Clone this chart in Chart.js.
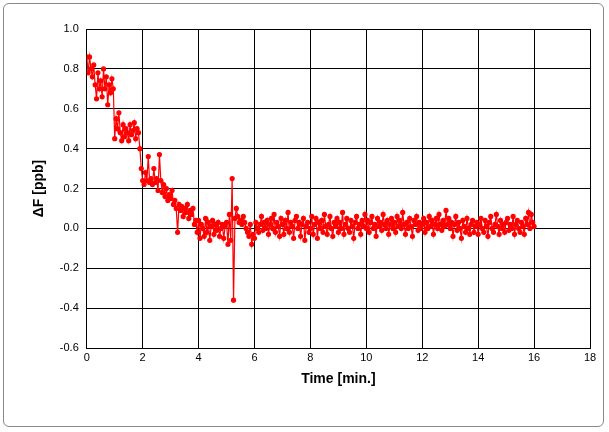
<!DOCTYPE html>
<html><head><meta charset="utf-8">
<script src="https://cdn.jsdelivr.net/npm/chart.js@4"></script>
<style>html,body{margin:0;padding:0;background:#fff}#w{position:absolute;left:3px;top:3px;width:601px;height:424px;border:1px solid #888;border-radius:6px;box-sizing:border-box}canvas{position:absolute;left:0;top:0}</style>
</head><body><div id="w"></div><canvas id="c" width="609" height="432"></canvas>
<script>
const sampleInterval = 0.05;
const dF = [
0.86,0.78,0.86,0.80,0.76,0.82,0.72,0.65,0.78,0.70,0.74,0.66,0.80,0.70,0.76,0.62,0.72,0.68,0.75,0.70,
0.45,0.55,0.50,0.58,0.48,0.44,0.52,0.46,0.50,0.48,0.44,0.52,0.47,0.49,0.53,0.45,0.50,0.48,0.40,0.30,
0.24,0.22,0.28,0.24,0.36,0.23,0.25,0.22,0.30,0.23,0.25,0.19,0.37,0.24,0.18,0.22,0.16,0.20,0.14,0.17,
0.15,0.19,0.12,0.14,0.10,-0.02,0.12,0.09,0.11,0.06,0.10,0.08,0.12,0.05,0.09,0.07,0.10,0.02,0.04,-0.02,
0.04,-0.05,0.02,0.00,-0.04,0.05,-0.02,0.03,-0.06,0.01,0.04,-0.03,0.02,-0.01,0.03,-0.04,0.00,0.02,-0.05,0.01,
0.03,-0.08,0.07,-0.06,0.25,-0.36,0.05,0.10,0.06,0.03,0.04,0.02,0.06,0.03,0.00,-0.02,-0.04,0.02,-0.08,-0.03,
-0.05,0.03,0.00,-0.02,0.02,0.06,-0.01,0.03,0.00,0.04,-0.03,0.02,0.05,0.00,0.07,-0.02,0.03,0.01,-0.04,0.05,
0.02,-0.03,0.04,0.00,0.08,-0.02,0.03,0.01,-0.05,0.04,0.06,0.00,0.03,-0.04,0.02,0.05,-0.06,0.01,0.03,-0.02,
0.00,0.06,-0.03,0.02,0.05,-0.05,0.03,0.00,0.04,-0.02,0.07,0.01,-0.03,0.02,0.06,0.00,-0.04,0.03,0.01,0.05,
-0.02,0.03,0.00,0.08,-0.03,0.02,0.05,0.00,-0.02,0.04,0.01,-0.05,0.03,0.06,0.00,0.02,-0.03,0.04,0.01,0.07,
0.00,0.04,-0.02,0.03,0.06,0.00,0.02,-0.04,0.05,0.01,0.03,-0.01,0.07,0.02,0.00,0.04,-0.03,0.02,0.05,0.00,
0.03,-0.02,0.06,0.01,0.04,0.00,0.08,0.02,-0.03,0.03,0.00,0.05,0.01,-0.04,0.04,0.02,0.06,-0.01,0.03,0.00,
0.02,0.05,-0.02,0.03,0.00,0.06,0.01,0.04,-0.03,0.02,0.05,0.00,0.07,0.02,-0.01,0.04,0.01,0.09,0.02,0.05,
0.00,0.03,-0.04,0.02,0.06,-0.01,0.03,0.00,-0.05,0.04,0.01,-0.02,0.05,0.00,-0.03,0.02,0.04,-0.02,0.01,0.03,
-0.03,0.02,0.05,0.00,-0.02,0.04,0.01,-0.04,0.03,0.06,0.00,-0.02,0.02,0.07,0.01,-0.03,0.04,0.00,0.02,-0.02,
0.03,0.05,-0.01,0.02,0.00,0.06,-0.03,0.02,0.04,0.00,-0.02,0.03,0.01,-0.03,0.05,0.02,0.08,0.00,0.07,0.03,
0.01];
const times = dF.map((_, i) => +(i * sampleInterval).toFixed(2));
const xTitle = 'Time [min.]', yTitle = 'ΔF [ppb]';
const pts = times.map((t, i) => ({x: t, y: dF[i]}));
new Chart(document.getElementById('c'), {
  type: 'scatter',
  data: {datasets: [{data: pts, showLine: true, borderColor: '#ff0000', backgroundColor: '#ff0000', borderWidth: 1.2, pointRadius: 2, pointHoverRadius: 2, tension: 0}]},
  options: {
    responsive: false, animation: false,
    layout: {padding: {left: 27, right: 19, top: 29, bottom: 40}},
    plugins: {legend: {display: false}, tooltip: {enabled: false}},
    scales: {
      x: {type: 'linear', min: 0, max: 18, ticks: {stepSize: 2, color: '#000', font: {family: 'Liberation Sans', size: 11}},
          grid: {color: '#000', lineWidth: 1, drawTicks: false}, border: {color: '#000'},
          title: {display: true, text: xTitle, color: '#000', font: {family: 'Liberation Sans', size: 14, weight: 'bold'}}},
      y: {min: -0.6, max: 1.0, ticks: {stepSize: 0.2, color: '#000', padding: 8, font: {family: 'Liberation Sans', size: 11}, callback: v => v.toFixed(1)},
          grid: {color: '#000', lineWidth: 1, drawTicks: false}, border: {color: '#000'},
          title: {display: true, text: yTitle, color: '#000', font: {family: 'Liberation Sans', size: 14, weight: 'bold'}}}
    }
  }
});
</script></body></html>
